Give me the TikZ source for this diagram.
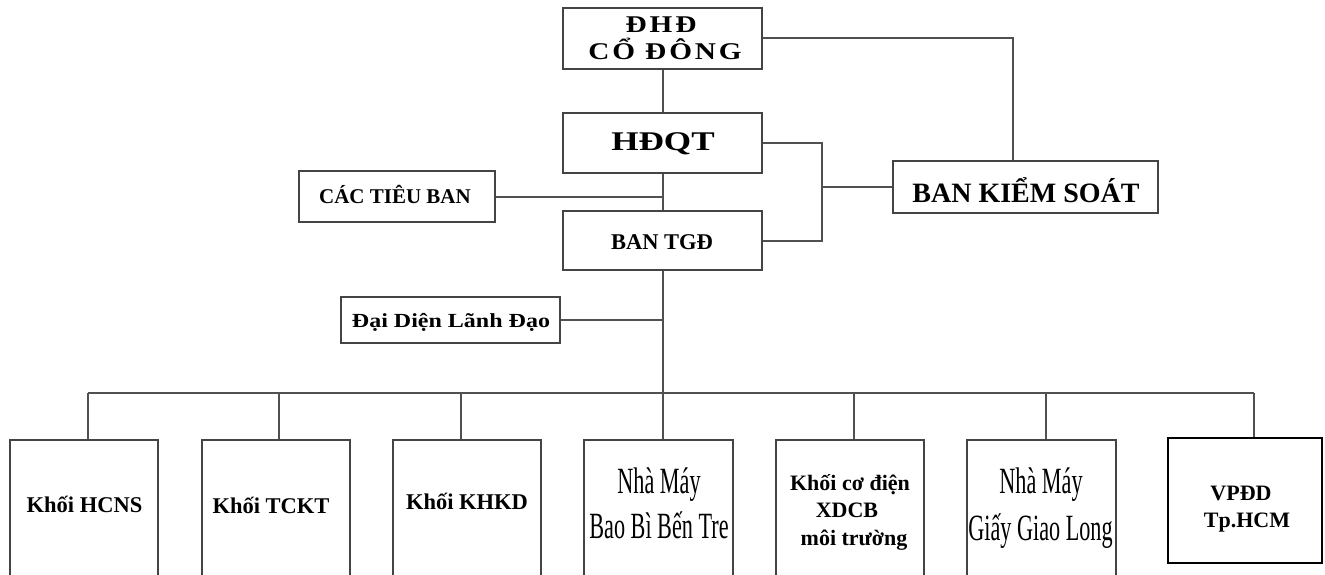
\documentclass[tikz,border=0pt]{standalone}
\usepackage{fontspec}
\setmainfont{Liberation Serif}
\newfontfamily\fdhd[FakeStretch=1.22,LetterSpace=12]{Liberation Serif}
\newfontfamily\fhdqt[FakeStretch=1.3]{Liberation Serif}
\newfontfamily\fddld[FakeStretch=1.2]{Liberation Serif}
\newfontfamily\fnarrow[FakeStretch=0.6]{Liberation Serif}
\definecolor{linegray}{HTML}{505050}
\definecolor{boxgray}{HTML}{444444}
\begin{document}
\begin{tikzpicture}[x=1pt,y=-1pt,
  box/.style={draw=boxgray, line width=2.2pt, rectangle, inner sep=0pt, fill=white},
  conn/.style={draw=linegray, line width=2pt},
  lbl/.style={anchor=base, inner sep=0pt, text=black},
  bsz/.style={font={\bfseries\fontsize{22.5}{26}\selectfont}},
  nsz/.style={font={\fnarrow\fontsize{37}{40}\selectfont}}
]
\useasboundingbox (0,0) rectangle (1325,575);
\fill[white] (0,0) rectangle (1325,575);
\clip (0,0) rectangle (1325,575);

% top boxes
\node[box, minimum width=199, minimum height=61] (dhd) at (662.5,38.5) {};
\node[box, minimum width=199, minimum height=60] (hdqt) at (662.5,143) {};
\node[box, minimum width=199, minimum height=59] (tgd) at (662.5,240.5) {};
\node[box, minimum width=196, minimum height=51] (ctb) at (397,196.5) {};
\node[box, minimum width=219, minimum height=46] (ddld) at (450.5,320) {};
\node[box, minimum width=265, minimum height=52] (bks) at (1025.5,187) {};

% bottom boxes
\node[box, minimum width=148, minimum height=160] (b1) at (84,520) {};
\node[box, minimum width=148, minimum height=160] (b2) at (276,520) {};
\node[box, minimum width=148, minimum height=160] (b3) at (467,520) {};
\node[box, minimum width=149, minimum height=160] (b4) at (658.5,520) {};
\node[box, minimum width=148, minimum height=160] (b5) at (850,520) {};
\node[box, minimum width=149, minimum height=160] (b6) at (1041.5,520) {};
\node[box, draw=black, minimum width=154, minimum height=125] (b7) at (1245,500.5) {};

% connectors
\draw[conn] (dhd) -- (hdqt);
\draw[conn] (hdqt) -- (tgd);
\coordinate (busc) at (662.5,393);
\draw[conn] (tgd.south) -- (busc);
\draw[conn] (ctb.east) -- (ctb.east -| hdqt.south);
\draw[conn] (ddld.east) -- (ddld.east -| tgd.south);
\coordinate (k1) at (1013,0);
\draw[conn] (dhd.east) -| (k1 |- bks.north);
\coordinate (j) at (822,0);
\draw[conn] (hdqt.east) -| (j |- tgd.east) -- (tgd.east);
\draw[conn] (j |- bks.west) -- (bks.west);
\coordinate (bl) at (88,393);
\coordinate (br) at (1254,393);
\draw[conn] (bl) -- (br);
\coordinate (d1) at (88,393);
\coordinate (d2) at (279,393);
\coordinate (d3) at (461,393);
\coordinate (d4) at (663,393);
\coordinate (d5) at (854,393);
\coordinate (d6) at (1046,393);
\coordinate (d7) at (1254,393);
\foreach \i in {1,...,7} {\draw[conn] (d\i) -- (d\i |- b\i.north);}

% texts
\node[lbl, font={\fdhd\bfseries\fontsize{24}{28}\selectfont}] (t0a) at (661,33) {ĐHĐ};
\node[lbl, font={\fdhd\bfseries\fontsize{24}{28}\selectfont}] (t0b) at (665,60) {CỔ ĐÔNG};
\node[lbl, font={\fhdqt\bfseries\fontsize{27}{30}\selectfont}] (t1) at (663,150) {HĐQT};
\node[lbl, font={\bfseries\fontsize{21}{24}\selectfont}] (t2) at (395,203) {CÁC TIÊU BAN};
\node[lbl, font={\bfseries\fontsize{22.5}{26}\selectfont}] (t3) at (662,249) {BAN TGĐ};
\node[lbl, font={\fddld\bfseries\fontsize{20}{24}\selectfont}] (t4) at (451,327) {Đại Diện Lãnh Đạo};
\node[lbl, font={\bfseries\fontsize{28}{32}\selectfont}] (t5) at (1026,202) {BAN KIỂM SOÁT};

\node[lbl, bsz] (s1) at (84.5,512) {Khối HCNS};
\node[lbl, bsz] (s2) at (271,513) {Khối TCKT};
\node[lbl, bsz] (s3) at (467,509) {Khối KHKD};
\node[lbl, nsz] (s4a) at (659,493) {Nhà Máy};
\node[lbl, nsz] (s4b) at (659,538) {Bao Bì Bến Tre};
\node[lbl, font={\bfseries\fontsize{22}{26}\selectfont}] (s5a) at (850,490) {Khối cơ điện};
\node[lbl, font={\bfseries\fontsize{22}{26}\selectfont}] (s5b) at (847,517) {XDCB};
\node[lbl, font={\bfseries\fontsize{22}{26}\selectfont}] (s5c) at (854,545) {môi trường};
\node[lbl, nsz] (s6a) at (1041,493) {Nhà Máy};
\node[lbl, nsz] (s6b) at (1040.5,540) {Giấy Giao Long};
\node[lbl, font={\bfseries\fontsize{22}{26}\selectfont}] (s7a) at (1241,500) {VPĐD};
\node[lbl, font={\bfseries\fontsize{22}{26}\selectfont}] (s7b) at (1247,527) {Tp.HCM};
\end{tikzpicture}
\end{document}
